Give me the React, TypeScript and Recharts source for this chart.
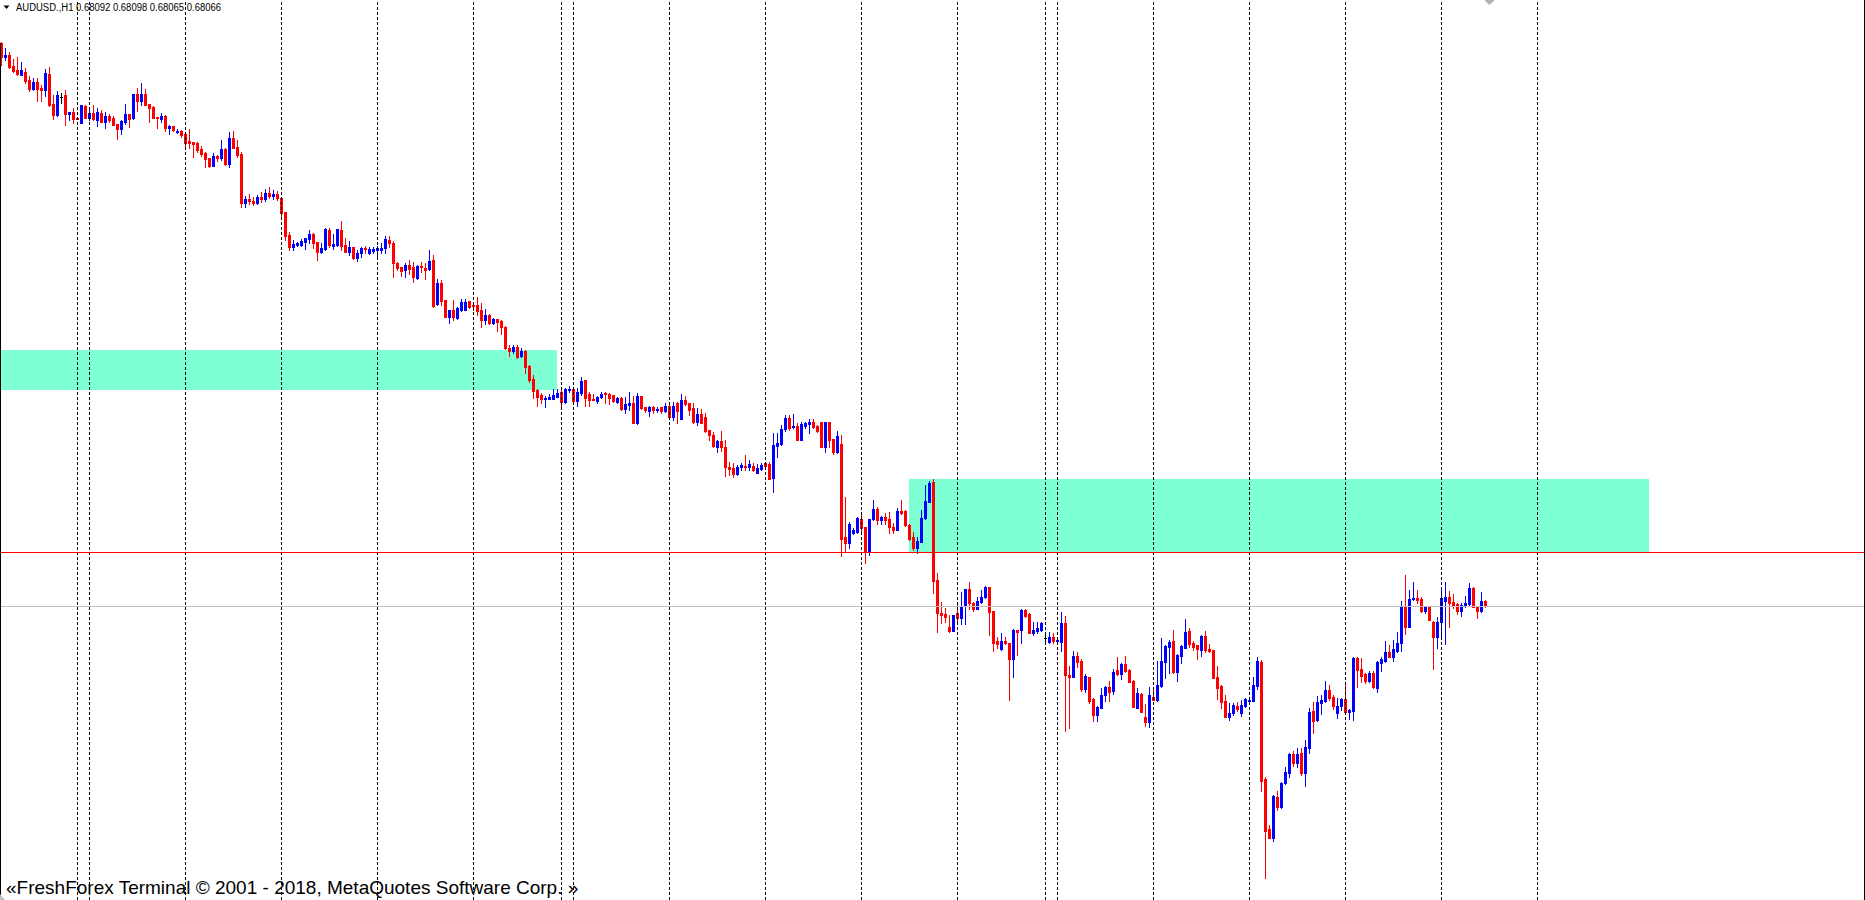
import React from 'react';
import { ComposedChart, Bar, XAxis, YAxis, ReferenceLine, ReferenceArea } from 'recharts';

// AUDUSD H1, prices in points (1 point = 0.00001)
const POINT = 0.00001;

const openPts = [
  70885, 70815, 70825, 70770, 70750, 70725, 70740, 70700, 70655, 70690,
  70660, 70650, 70730, 70580, 70525, 70615, 70625, 70530, 70540, 70510,
  70485, 70570, 70510, 70535, 70500, 70535, 70490, 70520, 70510, 70480,
  70455, 70490, 70530, 70510, 70630, 70595, 70630, 70580, 70565, 70515,
  70505, 70520, 70460, 70470, 70440, 70445, 70430, 70395, 70390, 70385,
  70355, 70335, 70310, 70270, 70320, 70310, 70355, 70280, 70410, 70365,
  70330, 70085, 70105, 70095, 70085, 70115, 70105, 70135, 70120, 70130,
  70110, 70040, 69925, 69865, 69875, 69875, 69890, 69905, 69930, 69890,
  69840, 69855, 69950, 69870, 69875, 69950, 69875, 69840, 69865, 69810,
  69835, 69860, 69835, 69845, 69850, 69850, 69860, 69900, 69885, 69785,
  69765, 69750, 69775, 69765, 69710, 69770, 69760, 69755, 69800, 69580,
  69685, 69600, 69515, 69550, 69510, 69550, 69550, 69595, 69575, 69575,
  69550, 69500, 69525, 69485, 69505, 69495, 69465, 69360, 69345, 69365,
  69320, 69345, 69270, 69205, 69150, 69125, 69105, 69105, 69105, 69115,
  69140, 69090, 69150, 69155, 69095, 69135, 69200, 69130, 69105, 69095,
  69115, 69135, 69130, 69125, 69090, 69110, 69055, 69075, 69085, 68985,
  69120, 69065, 69045, 69065, 69050, 69065, 69045, 69070, 69015, 69085,
  69005, 69100, 69085, 69060, 68990, 69030, 69015, 68950, 68925, 68865,
  68895, 68865, 68765, 68760, 68730, 68765, 68770, 68765, 68770, 68735,
  68755, 68785, 68780, 68710, 68870, 68880, 68955, 69010, 68965, 68970,
  68900, 68970, 68980, 68990, 68970, 68990, 68865, 68990, 68905, 68840,
  68880, 68415, 68385, 68435, 68440, 68505, 68465, 68345, 68505, 68555,
  68500, 68515, 68505, 68465, 68450, 68545, 68545, 68475, 68415, 68360,
  68390, 68510, 68590, 68690, 68200, 68035, 68030, 67965, 67945, 68035,
  68010, 68070, 68155, 68085, 68055, 68090, 68115, 68165, 68045, 67895,
  67855, 67895, 67885, 67805, 67950, 67950, 68050, 68030, 67935, 67945,
  67950, 67910, 67890, 67915, 67895, 67890, 67985, 67725, 67715, 67820,
  67795, 67655, 67715, 67605, 67525, 67560, 67625, 67665, 67645, 67750,
  67730, 67780, 67750, 67695, 67560, 67630, 67515, 67490, 67615, 67600,
  67670, 67790, 67865, 67895, 67740, 67820, 67860, 67945, 67885, 67875,
  67850, 67920, 67855, 67850, 67715, 67670, 67595, 67515, 67535, 67570,
  67535, 67570, 67595, 67595, 67670, 67790, 67205, 66955, 66910, 67115,
  67065, 67185, 67235, 67330, 67285, 67335, 67235, 67360, 67545, 67500,
  67585, 67595, 67650, 67615, 67535, 67570, 67605, 67540, 67545, 67810,
  67755, 67730, 67695, 67735, 67660, 67785, 67795, 67840, 67815, 67845,
  67885, 68070, 67965, 68105, 68110, 68105, 68045, 68065, 67990, 67915,
  67990, 68095, 68115, 68090, 68080, 68045, 68070, 68080, 68160, 68070,
  68045, 68092,
];

const highPts = [
  70890, 70860, 70840, 70805, 70815, 70790, 70760, 70720, 70710, 70710,
  70675, 70755, 70765, 70625, 70645, 70635, 70650, 70540, 70560, 70515,
  70575, 70575, 70550, 70575, 70560, 70550, 70540, 70530, 70520, 70480,
  70500, 70580, 70530, 70630, 70660, 70685, 70655, 70580, 70570, 70515,
  70535, 70525, 70475, 70470, 70455, 70450, 70430, 70455, 70390, 70390,
  70370, 70340, 70310, 70335, 70325, 70400, 70360, 70440, 70445, 70400,
  70340, 70120, 70130, 70115, 70125, 70140, 70155, 70165, 70150, 70145,
  70110, 70040, 69940, 69900, 69890, 69905, 69910, 69950, 69935, 69890,
  69885, 69960, 69960, 69930, 69955, 69995, 69910, 69895, 69865, 69850,
  69865, 69870, 69865, 69865, 69870, 69885, 69920, 69920, 69895, 69790,
  69765, 69785, 69800, 69790, 69775, 69790, 69785, 69850, 69825, 69705,
  69700, 69600, 69550, 69600, 69565, 69605, 69605, 69595, 69590, 69615,
  69585, 69555, 69530, 69510, 69505, 69500, 69470, 69375, 69375, 69375,
  69360, 69350, 69275, 69225, 69155, 69135, 69120, 69130, 69155, 69155,
  69160, 69160, 69170, 69160, 69160, 69215, 69200, 69140, 69130, 69120,
  69140, 69140, 69135, 69125, 69115, 69115, 69115, 69140, 69120, 69135,
  69120, 69065, 69070, 69070, 69065, 69065, 69085, 69075, 69090, 69090,
  69130, 69120, 69085, 69085, 69060, 69055, 69035, 68950, 68940, 68900,
  68945, 68900, 68790, 68785, 68775, 68785, 68825, 68800, 68785, 68780,
  68785, 68790, 68790, 68935, 68935, 68975, 69025, 69025, 69030, 68985,
  68990, 68990, 69005, 69005, 68975, 68990, 68990, 68990, 68905, 68945,
  68925, 68615, 68490, 68460, 68515, 68540, 68465, 68505, 68600, 68565,
  68520, 68535, 68540, 68485, 68560, 68600, 68550, 68480, 68440, 68415,
  68550, 68675, 68695, 68705, 68235, 68090, 68060, 68025, 68025, 68075,
  68140, 68155, 68190, 68090, 68115, 68150, 68170, 68165, 68045, 67915,
  67935, 67915, 67885, 67955, 67950, 68055, 68055, 68035, 67990, 67990,
  67990, 67925, 67940, 67935, 67905, 68040, 68020, 67770, 67845, 67840,
  67805, 67730, 67715, 67610, 67570, 67660, 67670, 67695, 67755, 67815,
  67785, 67820, 67755, 67700, 67660, 67635, 67580, 67665, 67660, 67795,
  67910, 67875, 67900, 67950, 67830, 67875, 68005, 67960, 67895, 67875,
  67925, 67945, 67880, 67850, 67770, 67675, 67625, 67585, 67585, 67590,
  67600, 67610, 67610, 67715, 67815, 67800, 67215, 66975, 67125, 67145,
  67190, 67265, 67335, 67345, 67360, 67360, 67400, 67560, 67590, 67620,
  67625, 67695, 67675, 67625, 67610, 67610, 67690, 67555, 67815, 67815,
  67810, 67735, 67745, 67745, 67795, 67815, 67895, 67875, 67900, 67940,
  68095, 68225, 68150, 68190, 68150, 68115, 68070, 68070, 67995, 68015,
  68165, 68190, 68145, 68130, 68085, 68085, 68120, 68185, 68165, 68070,
  68140, 68098,
];

const lowPts = [
  70775, 70800, 70760, 70740, 70725, 70725, 70685, 70645, 70650, 70595,
  70595, 70620, 70570, 70505, 70520, 70585, 70475, 70500, 70485, 70505,
  70485, 70510, 70500, 70500, 70470, 70490, 70460, 70490, 70475, 70405,
  70430, 70480, 70465, 70505, 70545, 70575, 70575, 70490, 70510, 70460,
  70490, 70445, 70430, 70445, 70435, 70415, 70365, 70360, 70315, 70340,
  70320, 70265, 70265, 70270, 70295, 70300, 70275, 70265, 70360, 70315,
  70065, 70065, 70080, 70075, 70080, 70090, 70095, 70110, 70105, 70100,
  70005, 69900, 69850, 69850, 69870, 69870, 69855, 69885, 69860, 69800,
  69835, 69850, 69865, 69855, 69870, 69850, 69840, 69825, 69805, 69795,
  69815, 69835, 69830, 69835, 69815, 69835, 69835, 69865, 69715, 69750,
  69720, 69715, 69730, 69690, 69705, 69740, 69705, 69750, 69565, 69575,
  69575, 69515, 69485, 69500, 69505, 69545, 69550, 69560, 69550, 69525,
  69465, 69480, 69480, 69480, 69445, 69430, 69355, 69320, 69335, 69310,
  69315, 69235, 69190, 69110, 69070, 69085, 69065, 69105, 69105, 69115,
  69070, 69085, 69140, 69095, 69070, 69125, 69070, 69070, 69100, 69085,
  69110, 69085, 69080, 69090, 69085, 69050, 69035, 69050, 68985, 68980,
  69055, 69040, 69020, 69035, 69040, 69035, 69040, 69010, 69000, 68985,
  69005, 69075, 69025, 68985, 68975, 68985, 68940, 68900, 68865, 68840,
  68845, 68720, 68725, 68715, 68725, 68750, 68750, 68750, 68745, 68735,
  68750, 68765, 68705, 68640, 68815, 68875, 68945, 68950, 68960, 68900,
  68900, 68960, 68935, 68960, 68940, 68865, 68840, 68865, 68830, 68835,
  68320, 68340, 68360, 68430, 68435, 68445, 68285, 68325, 68500, 68480,
  68480, 68480, 68435, 68435, 68450, 68530, 68470, 68400, 68350, 68335,
  68390, 68505, 68590, 68135, 67940, 67985, 67990, 67940, 67945, 67980,
  67980, 67980, 68055, 68045, 68055, 68085, 68110, 67925, 67845, 67860,
  67850, 67880, 67600, 67715, 67825, 67885, 68015, 67935, 67925, 67935,
  67945, 67895, 67885, 67885, 67880, 67845, 67445, 67460, 67715, 67765,
  67645, 67640, 67585, 67495, 67495, 67560, 67595, 67595, 67630, 67725,
  67705, 67740, 67690, 67565, 67560, 67540, 67470, 67465, 67600, 67595,
  67665, 67710, 67735, 67735, 67695, 67785, 67860, 67865, 67850, 67805,
  67820, 67840, 67840, 67710, 67605, 67560, 67515, 67500, 67525, 67545,
  67520, 67565, 67585, 67595, 67655, 67145, 66710, 66910, 66895, 67050,
  67060, 67180, 67215, 67270, 67265, 67225, 67170, 67335, 67435, 67495,
  67530, 67590, 67600, 67555, 67510, 67550, 67535, 67505, 67500, 67665,
  67690, 67685, 67690, 67660, 67640, 67745, 67790, 67815, 67795, 67840,
  67845, 67930, 67965, 68100, 68085, 68040, 68035, 68000, 67755, 67860,
  67915, 67880, 67965, 68060, 68030, 68020, 68065, 68075, 68065, 68010,
  68040, 68065,
];

const closePts = [
  70815, 70825, 70765, 70745, 70730, 70750, 70695, 70655, 70690, 70655,
  70650, 70735, 70575, 70525, 70625, 70615, 70530, 70540, 70505, 70505,
  70575, 70510, 70535, 70505, 70540, 70490, 70520, 70500, 70475, 70455,
  70495, 70530, 70505, 70630, 70595, 70630, 70575, 70560, 70510, 70510,
  70520, 70460, 70470, 70450, 70445, 70425, 70385, 70385, 70380, 70350,
  70330, 70305, 70270, 70320, 70310, 70355, 70280, 70410, 70360, 70325,
  70085, 70105, 70095, 70085, 70115, 70105, 70135, 70120, 70130, 70110,
  70035, 69920, 69865, 69880, 69885, 69895, 69910, 69930, 69885, 69840,
  69860, 69955, 69875, 69880, 69955, 69870, 69840, 69865, 69810, 69835,
  69860, 69855, 69855, 69855, 69860, 69860, 69905, 69885, 69785, 69760,
  69745, 69775, 69755, 69715, 69770, 69765, 69750, 69795, 69570, 69685,
  69595, 69515, 69550, 69515, 69560, 69590, 69590, 69565, 69570, 69545,
  69500, 69525, 69485, 69505, 69490, 69465, 69360, 69345, 69365, 69315,
  69345, 69265, 69200, 69145, 69115, 69105, 69110, 69115, 69125, 69135,
  69090, 69155, 69155, 69095, 69140, 69195, 69110, 69100, 69100, 69115,
  69130, 69130, 69110, 69095, 69110, 69055, 69080, 69085, 68985, 69120,
  69060, 69050, 69065, 69050, 69055, 69045, 69070, 69015, 69070, 69045,
  69100, 69080, 69050, 68990, 69030, 68985, 68945, 68925, 68870, 68895,
  68865, 68765, 68755, 68730, 68765, 68775, 68765, 68780, 68750, 68760,
  68775, 68770, 68705, 68875, 68885, 68955, 69010, 68960, 68970, 68900,
  68980, 68985, 68990, 68965, 68945, 68865, 68990, 68900, 68840, 68920,
  68405, 68385, 68480, 68450, 68510, 68460, 68345, 68505, 68555, 68500,
  68515, 68500, 68465, 68450, 68545, 68535, 68475, 68405, 68360, 68395,
  68510, 68595, 68685, 68195, 68035, 68025, 68015, 67945, 68025, 68010,
  68065, 68155, 68085, 68055, 68095, 68115, 68165, 68040, 67885, 67880,
  67895, 67885, 67805, 67950, 67940, 68050, 68020, 67935, 67950, 67960,
  67985, 67910, 67915, 67895, 67900, 67985, 67725, 67715, 67820, 67790,
  67655, 67720, 67595, 67525, 67565, 67625, 67665, 67640, 67740, 67730,
  67780, 67745, 67690, 67565, 67635, 67540, 67490, 67625, 67600, 67675,
  67795, 67870, 67890, 67740, 67825, 67870, 67940, 67880, 67865, 67855,
  67920, 67850, 67845, 67710, 67660, 67590, 67515, 67535, 67575, 67555,
  67575, 67605, 67600, 67675, 67795, 67195, 66945, 66910, 67120, 67065,
  67185, 67240, 67330, 67285, 67330, 67235, 67365, 67540, 67495, 67590,
  67600, 67650, 67610, 67570, 67570, 67605, 67540, 67550, 67810, 67750,
  67720, 67695, 67735, 67665, 67790, 67805, 67840, 67815, 67855, 67885,
  68070, 67965, 68105, 68110, 68100, 68045, 68065, 68000, 67915, 67990,
  68110, 68115, 68085, 68075, 68045, 68075, 68085, 68160, 68065, 68045,
  68095, 68066,
];

// bar index where each new trading day starts (period separators), last one is in the future
const daySeparators = [19, 22, 46, 70, 94, 118, 140, 143, 167, 191, 215, 239, 261, 264, 288, 312, 336, 360, 384];

// rectangles drawn on the chart: bar index range and price range
const zoneFrom = [-0.375, 226.875];
const zoneTo = [138.875, 411.875];
const zoneTop = [0.69349, 0.68704];
const zoneBottom = [0.69149, 0.683385];

const levelPrice = 0.68336;
const symbol = 'AUDUSD.,H1';

const data = openPts.map((o, i) => {
  const h = highPts[i] * POINT;
  const l = lowPts[i] * POINT;
  return { i, o: o * POINT, h, l, c: closePts[i] * POINT, range: [l, h] };
});
const last = data[data.length - 1];

const Candle = (props: any) => {
  const { x, width, y, height } = props;
  const p = props.payload || props;
  const top = Math.min(y, y + height);
  const hgt = Math.abs(height);
  const k = p.h > p.l ? hgt / (p.h - p.l) : 0;
  const yo = top + (p.h - p.o) * k;
  const yc = top + (p.h - p.c) * k;
  const color = p.c > p.o + 1e-9 ? '#0000ff' : p.c < p.o - 1e-9 ? '#ff0000' : '#000000';
  const cx = Math.floor(x + width / 2);
  const wTop = Math.round(top);
  const wBot = Math.round(top + hgt);
  const bTop = Math.round(Math.min(yo, yc));
  const bBot = Math.round(Math.max(yo, yc));
  return (
    <g shapeRendering="crispEdges">
      <rect x={cx} y={wTop} width={1} height={Math.max(1, wBot - wTop + 1)} fill={color} />
      <rect x={cx - 1} y={bTop} width={3} height={Math.max(1, bBot - bTop + 1)} fill={color} />
    </g>
  );
};

const fmt = (v: number) => v.toFixed(5);

export default function App() {
  return (
    <div
      style={{
        position: 'absolute',
        left: 0,
        top: 0,
        width: 1865,
        height: 900,
        background: '#ffffff',
        overflow: 'hidden',
      }}
    >
      <ComposedChart width={1865} height={900} data={data} margin={{ top: 0, right: 0, bottom: 0, left: 0 }}>
        <XAxis type="number" dataKey="i" domain={[-0.375, 465.875]} hide allowDataOverflow />
        <YAxis type="number" domain={[0.665985, 0.710985]} hide allowDataOverflow />
        {zoneFrom.map((x1, k) => (
          <ReferenceArea
            key={'z' + k}
            x1={x1}
            x2={zoneTo[k]}
            y1={zoneBottom[k]}
            y2={zoneTop[k]}
            fill="#7fffd4"
            fillOpacity={1}
            stroke="none"
            shapeRendering="crispEdges"
          />
        ))}
        {daySeparators.map((d) => (
          <ReferenceLine key={'d' + d} x={d} stroke="#000000" strokeDasharray="3 2" strokeWidth={1} />
        ))}
        <ReferenceLine y={last.c} stroke="#c0c0c0" strokeWidth={1} />
        <Bar dataKey="range" barSize={3} shape={Candle} isAnimationActive={false} />
        <ReferenceLine y={levelPrice} stroke="#ff0000" strokeWidth={1} />
      </ComposedChart>
      <svg
        width={1865}
        height={900}
        style={{ position: 'absolute', left: 0, top: 0, pointerEvents: 'none' }}
        fontFamily="'Liberation Sans', Arial, sans-serif"
      >
        <line x1={0.5} y1={43} x2={0.5} y2={900} stroke="#000" strokeWidth={1} />
        <line x1={1864.5} y1={0} x2={1864.5} y2={900} stroke="#000" strokeWidth={1} />
        <polygon points="3.5,5.5 9.5,5.5 6.5,9" fill="#000" />
        <text x={16} y={11} fontSize={10} textLength={205} lengthAdjust="spacingAndGlyphs" fill="#000">
          {`${symbol} ${fmt(last.o)} ${fmt(last.h)} ${fmt(last.l)} ${fmt(last.c)}`}
        </text>
        <polygon points="1485,0 1494,0 1494,1 1489.5,5 1485,1" fill="#b4b4b4" />
        <polygon points="0,894 0,900 5,900" fill="#c0c0c0" />
        <text x={6} y={894} fontSize={19} fill="#000">
          «FreshForex Terminal © 2001 - 2018, MetaQuotes Software Corp. »
        </text>
      </svg>
    </div>
  );
}
